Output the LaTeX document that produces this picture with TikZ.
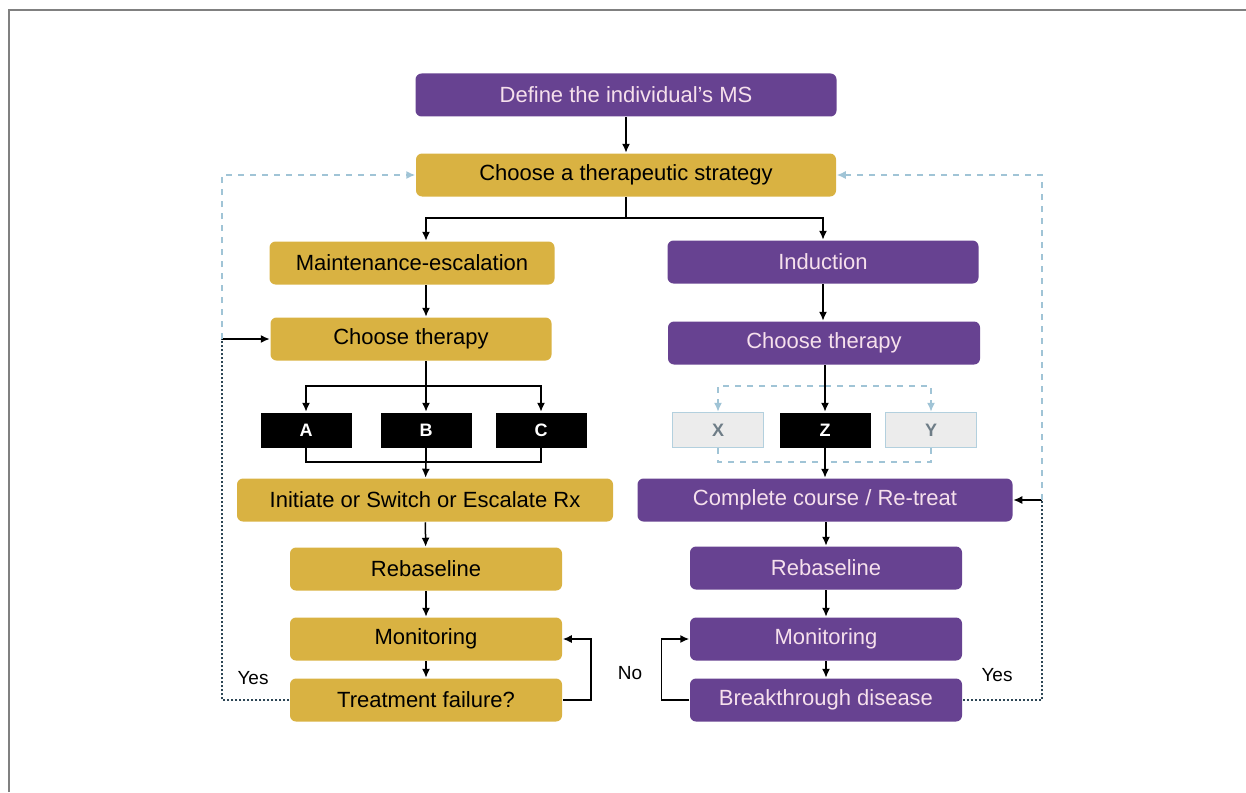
\documentclass[tikz,border=0pt]{standalone}
\usepackage{fontspec}
\setmainfont{Liberation Sans}
\usetikzlibrary{arrows.meta}
\definecolor{msgold}{RGB}{217,178,66}
\definecolor{mspurple}{RGB}{103,66,145}
\definecolor{mstext}{RGB}{246,224,236}
\definecolor{mslight}{RGB}{160,196,214}
\definecolor{msdash}{RGB}{45,70,85}
\definecolor{msfaded}{RGB}{110,125,135}
\begin{document}
\begin{tikzpicture}[x=0.5pt, y=-0.5pt, line width=0.75pt,
		box/.style={rounded corners=3pt, minimum height=21.5pt, inner sep=0pt, font=\fontsize{11}{13}\selectfont},
		gold box/.style={box, fill=msgold, text=black},
		purple box/.style={box, fill=mspurple, text=mstext},
		drug/.style={fill=black, text=white, minimum width=45.5pt, minimum height=17.5pt, inner sep=0pt, font=\bfseries\fontsize{9}{10}\selectfont},
		faded drug/.style={drug, fill=gray!15, draw=mslight!80, text=msfaded},
		flow/.style={-{Latex[length=4.5pt,width=4pt]}},
		light flow/.style={-{Latex[length=4.5pt,width=4pt]}, mslight, dashed},
		light line/.style={mslight, dashed},
		dark line/.style={msdash, dash pattern=on 1.2pt off 0.8pt, line width=0.9pt},
		answer/.style={font=\fontsize{9.5}{11}\selectfont}]
			\useasboundingbox (0,0) rectangle (1246,792);
			\draw[gray, line width=1pt] (9,792) -- (9,10) -- (1246,10);
			\node[purple box, minimum width=210.5pt] (define) at (626,95) {Define the individual's MS};
			\node[gold box, minimum width=210pt] (strategy) at (626,175) {Choose a therapeutic strategy};
			\node[gold box, minimum width=142.5pt] (maint) at (412,263) {Maintenance-escalation};
			\node[purple box, minimum width=155.5pt] (induct) at (823,262) {Induction};
			\node[gold box, minimum width=140.5pt] (chooseL) at (411,339) {Choose therapy};
			\node[purple box, minimum width=156pt] (chooseR) at (824,343) {Choose therapy};
			\node[drug] (A) at (306,430) {A};
			\node[drug] (B) at (426,430) {B};
			\node[drug] (C) at (541,430) {C};
			\node[faded drug] (X) at (718,430) {X};
			\node[drug] (Z) at (825,430) {Z};
			\node[faded drug] (Y) at (931,430) {Y};
			\node[gold box, minimum width=188pt] (init) at (425,500) {Initiate or Switch or Escalate Rx};
			\node[purple box, minimum width=187.5pt] (complete) at (825,500) {Complete course / Re-treat};
			\node[gold box, minimum width=136pt] (rebaseL) at (426,569) {Rebaseline};
			\node[purple box, minimum width=136pt] (rebaseR) at (826,568) {Rebaseline};
			\node[gold box, minimum width=136pt] (monL) at (426,639) {Monitoring};
			\node[purple box, minimum width=136pt] (monR) at (826,639) {Monitoring};
			\node[gold box, minimum width=136pt] (fail) at (426,700) {Treatment failure?};
			\node[purple box, minimum width=136pt] (break) at (826,700) {Breakthrough disease};
			\node[answer] (yesL) at (253,678) {Yes};
			\node[answer] (noR) at (630,673) {No};
			\node[answer] (yesR) at (997,675) {Yes};
			\coordinate (splitTop) at (626,218);
			\coordinate (splitL) at (426,386);
			\coordinate (joinL) at (426,462);
			\coordinate (splitR) at (825,386);
			\coordinate (joinR) at (825,462);
			\coordinate (backL) at (222,339);
			\coordinate (backR) at (1042,500);
			\draw[flow] (define) -- (strategy);
			\draw (strategy) -- (splitTop);
			\draw[flow] (splitTop) -| (maint.north -| fail.north);
			\draw[flow] (splitTop) -| (induct.north);
			\draw[flow] (maint.south -| fail.north) -- (chooseL.north -| fail.north);
			\draw (chooseL.south -| splitL) -- (splitL);
			\foreach \d in {A,B,C}{
			  \draw[flow] (splitL) -| (\d.north);
			  \draw (\d.south) |- (joinL);
			}
			\draw[flow] (joinL) -- (init);
			\draw[flow] (induct) -- (induct |- chooseR.north);
			\foreach \d in {X,Y}{
			  \draw[light flow] (splitR) -| (\d.north);
			  \draw[light line] (\d.south) |- (joinR);
			}
			\draw[flow] (chooseR.south -| Z) -- (Z);
			\draw[flow] (Z) -- (complete);
			\draw[flow] (init) -- (rebaseL);
			\draw[flow] (complete.south -| rebaseR) -- (rebaseR);
			\foreach \a/\b in {rebaseL/monL, monL/fail, rebaseR/monR, monR/break}{
			  \draw[flow] (\a) -- (\b);
			}
			\draw[flow] (fail.east) -- ++(28,0) |- (monL.east);
			\draw[flow] (break.west) -- ++(-28,0) |- (monR.west);
			\draw[dark line] (fail.west) -| (backL);
			\draw[flow] (backL) -- (chooseL.west);
			\draw[light flow] (backL) |- (strategy.west);
			\draw[dark line] (break.east) -| (backR);
			\draw[flow] (backR) -- (complete.east);
			\draw[light flow] (backR) |- (strategy.east);
		\end{tikzpicture}
\end{document}
